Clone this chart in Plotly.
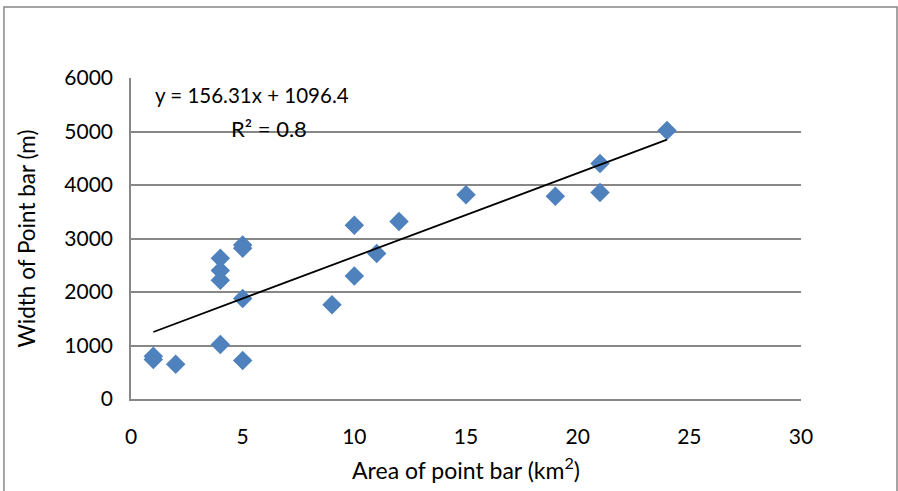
import plotly.graph_objects as go

# Point bar measurements
area_km2 = [1, 1, 2, 4, 4, 4, 4, 5, 5, 5, 5, 9, 10, 10, 11, 12, 15, 19, 21, 21, 24]
width_m = [800, 740, 650, 2630, 2400, 2220, 1020, 2880, 2820, 1880, 720,
           1760, 3250, 2300, 2720, 3320, 3820, 3790, 4400, 3860, 5020]

# Linear trend parameters
slope = 156.31
intercept = 1096.4
r_squared = 0.8

x_ticks = [0, 5, 10, 15, 20, 25, 30]
y_ticks = [0, 1000, 2000, 3000, 4000, 5000, 6000]

FONT = "Lato, Calibri, Arial, sans-serif"
GRID = "#878787"

x_fit = [min(area_km2), max(area_km2)]
y_fit = [slope * x + intercept for x in x_fit]

fig = go.Figure()
fig.add_trace(go.Scatter(
    x=area_km2, y=width_m, mode="markers",
    marker=dict(symbol="diamond", size=15, color="#4F81BD",
                line=dict(width=0)),
    showlegend=False,
))
fig.add_trace(go.Scatter(
    x=x_fit, y=y_fit, mode="lines",
    line=dict(color="black", width=1.8),
    showlegend=False,
))

fig.update_layout(
    width=898, height=491,
    margin=dict(l=131, r=97, t=78, b=92),
    paper_bgcolor="white", plot_bgcolor="white",
    font=dict(family=FONT, size=20, color="black"),
    xaxis=dict(
        range=[0, 30], tickvals=x_ticks, showgrid=False, zeroline=False,
        showline=True, linecolor=GRID, linewidth=1.5, ticks="",
        tickfont=dict(size=21), ticklabelstandoff=18,
        title=dict(text="Area of point bar (km<sup>2</sup>)",
                   font=dict(size=23), standoff=16),
    ),
    yaxis=dict(
        range=[0, 6000], tickvals=y_ticks, showgrid=True, gridcolor=GRID,
        gridwidth=1.5, zeroline=False, showline=True, linecolor=GRID,
        linewidth=1.5, ticks="", tickfont=dict(size=21), ticklabelstandoff=12,
        title=dict(text="Width of Point bar (m)", font=dict(size=22.5),
                   standoff=22),
    ),
    annotations=[
        dict(x=4.3, y=5680, xshift=25, xref="x", yref="y",
             text=f"y = {slope}x + {intercept}", showarrow=False,
             font=dict(size=20.5)),
        dict(x=6.1, y=5060, xshift=2, xref="x", yref="y",
             text=f"R² = {r_squared}", showarrow=False,
             font=dict(size=22)),
    ],
    shapes=[
        dict(type="rect", xref="paper", yref="paper",
             x0=-0.1896, x1=1.1433, y0=-0.31, y1=1.2212,
             line=dict(color=GRID, width=1.5), layer="below"),
    ],
)

fig.write_html("out.html")
